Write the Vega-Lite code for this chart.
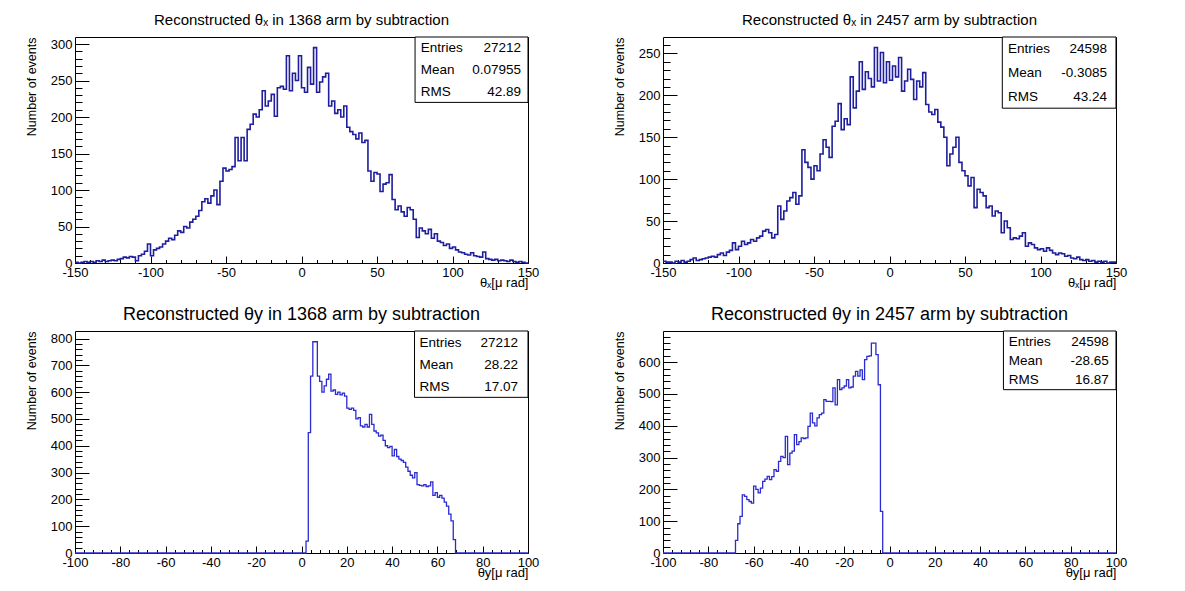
{
 "$schema": "https://vega.github.io/schema/vega-lite/v6.json",
 "background": "white",
 "padding": {"left": 24, "top": 12, "right": 5, "bottom": 5},
 "datasets": {
  "tl": [{"x":-150,"n":1},{"x":-148,"n":0},{"x":-146,"n":1},{"x":-144,"n":2},{"x":-142,"n":1},{"x":-140,"n":2},{"x":-138,"n":1},{"x":-136,"n":3},{"x":-134,"n":2},{"x":-132,"n":4},{"x":-130,"n":2},{"x":-128,"n":3},{"x":-126,"n":4},{"x":-124,"n":3},{"x":-122,"n":5},{"x":-120,"n":6},{"x":-118,"n":8},{"x":-116,"n":7},{"x":-114,"n":9},{"x":-112,"n":8},{"x":-110,"n":3},{"x":-108,"n":10},{"x":-106,"n":12},{"x":-104,"n":16},{"x":-102,"n":26},{"x":-100,"n":10},{"x":-98,"n":18},{"x":-96,"n":20},{"x":-94,"n":22},{"x":-92,"n":26},{"x":-90,"n":30},{"x":-88,"n":34},{"x":-86,"n":32},{"x":-84,"n":38},{"x":-82,"n":44},{"x":-80,"n":42},{"x":-78,"n":50},{"x":-76,"n":48},{"x":-74,"n":56},{"x":-72,"n":60},{"x":-70,"n":64},{"x":-68,"n":72},{"x":-66,"n":84},{"x":-64,"n":88},{"x":-62,"n":82},{"x":-60,"n":92},{"x":-58,"n":100},{"x":-56,"n":80},{"x":-54,"n":112},{"x":-52,"n":130},{"x":-50,"n":126},{"x":-48,"n":128},{"x":-46,"n":132},{"x":-44,"n":172},{"x":-42,"n":140},{"x":-40,"n":172},{"x":-38,"n":140},{"x":-36,"n":183},{"x":-34,"n":190},{"x":-32,"n":204},{"x":-30,"n":200},{"x":-28,"n":210},{"x":-26,"n":236},{"x":-24,"n":215},{"x":-22,"n":222},{"x":-20,"n":231},{"x":-18,"n":201},{"x":-16,"n":240},{"x":-14,"n":242},{"x":-12,"n":238},{"x":-10,"n":284},{"x":-8,"n":236},{"x":-6,"n":260},{"x":-4,"n":250},{"x":-2,"n":284},{"x":0,"n":240},{"x":2,"n":234},{"x":4,"n":268},{"x":6,"n":245},{"x":8,"n":295},{"x":10,"n":234},{"x":12,"n":248},{"x":14,"n":255},{"x":16,"n":260},{"x":18,"n":215},{"x":20,"n":222},{"x":22,"n":205},{"x":24,"n":210},{"x":26,"n":200},{"x":28,"n":215},{"x":30,"n":186},{"x":32,"n":180},{"x":34,"n":176},{"x":36,"n":170},{"x":38,"n":178},{"x":40,"n":165},{"x":42,"n":168},{"x":44,"n":126},{"x":46,"n":112},{"x":48,"n":124},{"x":50,"n":122},{"x":52,"n":98},{"x":54,"n":108},{"x":56,"n":110},{"x":58,"n":121},{"x":60,"n":87},{"x":62,"n":73},{"x":64,"n":78},{"x":66,"n":70},{"x":68,"n":64},{"x":70,"n":76},{"x":72,"n":73},{"x":74,"n":60},{"x":76,"n":35},{"x":78,"n":48},{"x":80,"n":44},{"x":82,"n":40},{"x":84,"n":46},{"x":86,"n":34},{"x":88,"n":40},{"x":90,"n":30},{"x":92,"n":28},{"x":94,"n":24},{"x":96,"n":26},{"x":98,"n":20},{"x":100,"n":22},{"x":102,"n":18},{"x":104,"n":15},{"x":106,"n":14},{"x":108,"n":12},{"x":110,"n":11},{"x":112,"n":14},{"x":114,"n":10},{"x":116,"n":9},{"x":118,"n":8},{"x":120,"n":15},{"x":122,"n":6},{"x":124,"n":5},{"x":126,"n":4},{"x":128,"n":5},{"x":130,"n":3},{"x":132,"n":4},{"x":134,"n":3},{"x":136,"n":2},{"x":138,"n":4},{"x":140,"n":2},{"x":142,"n":1},{"x":144,"n":2},{"x":146,"n":1},{"x":148,"n":0},{"x":150,"n":0}],
  "tr": [{"x":-150,"n":2},{"x":-148,"n":1},{"x":-146,"n":1},{"x":-144,"n":0},{"x":-142,"n":2},{"x":-140,"n":1},{"x":-138,"n":3},{"x":-136,"n":1},{"x":-134,"n":2},{"x":-132,"n":4},{"x":-130,"n":6},{"x":-128,"n":3},{"x":-126,"n":4},{"x":-124,"n":5},{"x":-122,"n":6},{"x":-120,"n":7},{"x":-118,"n":8},{"x":-116,"n":7},{"x":-114,"n":10},{"x":-112,"n":12},{"x":-110,"n":9},{"x":-108,"n":13},{"x":-106,"n":15},{"x":-104,"n":24},{"x":-102,"n":16},{"x":-100,"n":20},{"x":-98,"n":26},{"x":-96,"n":22},{"x":-94,"n":24},{"x":-92,"n":28},{"x":-90,"n":26},{"x":-88,"n":30},{"x":-86,"n":32},{"x":-84,"n":38},{"x":-82,"n":40},{"x":-80,"n":36},{"x":-78,"n":30},{"x":-76,"n":34},{"x":-74,"n":68},{"x":-72,"n":52},{"x":-70,"n":62},{"x":-68,"n":74},{"x":-66,"n":78},{"x":-64,"n":84},{"x":-62,"n":70},{"x":-60,"n":80},{"x":-58,"n":135},{"x":-56,"n":120},{"x":-54,"n":114},{"x":-52,"n":100},{"x":-50,"n":116},{"x":-48,"n":110},{"x":-46,"n":130},{"x":-44,"n":147},{"x":-42,"n":138},{"x":-40,"n":126},{"x":-38,"n":163},{"x":-36,"n":169},{"x":-34,"n":190},{"x":-32,"n":159},{"x":-30,"n":172},{"x":-28,"n":165},{"x":-26,"n":222},{"x":-24,"n":185},{"x":-22,"n":205},{"x":-20,"n":240},{"x":-18,"n":207},{"x":-16,"n":228},{"x":-14,"n":220},{"x":-12,"n":210},{"x":-10,"n":257},{"x":-8,"n":217},{"x":-6,"n":251},{"x":-4,"n":215},{"x":-2,"n":240},{"x":0,"n":218},{"x":2,"n":235},{"x":4,"n":222},{"x":6,"n":245},{"x":8,"n":205},{"x":10,"n":217},{"x":12,"n":231},{"x":14,"n":219},{"x":16,"n":195},{"x":18,"n":217},{"x":20,"n":210},{"x":22,"n":227},{"x":24,"n":189},{"x":26,"n":180},{"x":28,"n":177},{"x":30,"n":183},{"x":32,"n":168},{"x":34,"n":162},{"x":36,"n":150},{"x":38,"n":116},{"x":40,"n":130},{"x":42,"n":138},{"x":44,"n":150},{"x":46,"n":120},{"x":48,"n":110},{"x":50,"n":104},{"x":52,"n":92},{"x":54,"n":102},{"x":56,"n":66},{"x":58,"n":88},{"x":60,"n":84},{"x":62,"n":80},{"x":64,"n":66},{"x":66,"n":68},{"x":68,"n":56},{"x":70,"n":62},{"x":72,"n":60},{"x":74,"n":36},{"x":76,"n":50},{"x":78,"n":42},{"x":80,"n":28},{"x":82,"n":30},{"x":84,"n":29},{"x":86,"n":32},{"x":88,"n":36},{"x":90,"n":20},{"x":92,"n":24},{"x":94,"n":22},{"x":96,"n":18},{"x":98,"n":16},{"x":100,"n":17},{"x":102,"n":14},{"x":104,"n":18},{"x":106,"n":15},{"x":108,"n":12},{"x":110,"n":10},{"x":112,"n":12},{"x":114,"n":11},{"x":116,"n":8},{"x":118,"n":9},{"x":120,"n":6},{"x":122,"n":5},{"x":124,"n":7},{"x":126,"n":4},{"x":128,"n":3},{"x":130,"n":4},{"x":132,"n":2},{"x":134,"n":3},{"x":136,"n":1},{"x":138,"n":2},{"x":140,"n":1},{"x":142,"n":2},{"x":144,"n":0},{"x":146,"n":1},{"x":148,"n":1},{"x":150,"n":1}],
  "bl": [{"x":-100,"n":0},{"x":2,"n":44},{"x":3,"n":449},{"x":4,"n":660},{"x":5,"n":788},{"x":6,"n":788},{"x":7,"n":660},{"x":8,"n":640},{"x":9,"n":600},{"x":10,"n":623},{"x":11,"n":648},{"x":12,"n":667},{"x":13,"n":604},{"x":14,"n":608},{"x":15,"n":592},{"x":16,"n":600},{"x":17,"n":590},{"x":18,"n":596},{"x":19,"n":585},{"x":20,"n":540},{"x":21,"n":536},{"x":22,"n":540},{"x":23,"n":532},{"x":24,"n":500},{"x":25,"n":505},{"x":26,"n":474},{"x":27,"n":470},{"x":28,"n":480},{"x":29,"n":470},{"x":30,"n":517},{"x":31,"n":480},{"x":32,"n":455},{"x":33,"n":448},{"x":34,"n":436},{"x":35,"n":440},{"x":36,"n":420},{"x":37,"n":400},{"x":38,"n":393},{"x":39,"n":398},{"x":40,"n":362},{"x":41,"n":386},{"x":42,"n":360},{"x":43,"n":350},{"x":44,"n":345},{"x":45,"n":338},{"x":46,"n":320},{"x":47,"n":305},{"x":48,"n":290},{"x":49,"n":280},{"x":50,"n":300},{"x":51,"n":255},{"x":52,"n":252},{"x":53,"n":250},{"x":54,"n":255},{"x":55,"n":248},{"x":56,"n":250},{"x":57,"n":265},{"x":58,"n":215},{"x":59,"n":225},{"x":60,"n":208},{"x":61,"n":215},{"x":62,"n":205},{"x":63,"n":190},{"x":64,"n":175},{"x":65,"n":145},{"x":66,"n":120},{"x":67,"n":50},{"x":68,"n":0},{"x":100,"n":0}],
  "br": [{"x":-100,"n":0},{"x":-68,"n":40},{"x":-67,"n":92},{"x":-66,"n":115},{"x":-65,"n":183},{"x":-64,"n":178},{"x":-63,"n":168},{"x":-62,"n":162},{"x":-61,"n":157},{"x":-60,"n":210},{"x":-59,"n":200},{"x":-58,"n":189},{"x":-57,"n":204},{"x":-56,"n":225},{"x":-55,"n":232},{"x":-54,"n":241},{"x":-53,"n":231},{"x":-52,"n":240},{"x":-51,"n":262},{"x":-50,"n":257},{"x":-49,"n":288},{"x":-48,"n":304},{"x":-47,"n":300},{"x":-46,"n":367},{"x":-45,"n":278},{"x":-44,"n":314},{"x":-43,"n":320},{"x":-42,"n":372},{"x":-41,"n":341},{"x":-40,"n":350},{"x":-39,"n":362},{"x":-38,"n":360},{"x":-37,"n":362},{"x":-36,"n":398},{"x":-35,"n":440},{"x":-34,"n":409},{"x":-33,"n":400},{"x":-32,"n":425},{"x":-31,"n":435},{"x":-30,"n":440},{"x":-29,"n":482},{"x":-28,"n":477},{"x":-27,"n":477},{"x":-26,"n":476},{"x":-25,"n":519},{"x":-24,"n":466},{"x":-23,"n":545},{"x":-22,"n":514},{"x":-21,"n":519},{"x":-20,"n":525},{"x":-19,"n":545},{"x":-18,"n":519},{"x":-17,"n":522},{"x":-16,"n":556},{"x":-15,"n":571},{"x":-14,"n":556},{"x":-13,"n":576},{"x":-12,"n":545},{"x":-11,"n":608},{"x":-10,"n":618},{"x":-9,"n":620},{"x":-8,"n":660},{"x":-7,"n":660},{"x":-6,"n":624},{"x":-5,"n":529},{"x":-4,"n":131},{"x":-3,"n":0},{"x":100,"n":0}],
  "s_tl": [{"k":"Entries","v":"27212"},{"k":"Mean","v":"0.07955"},{"k":"RMS","v":"42.89"}],
  "s_tr": [{"k":"Entries","v":"24598"},{"k":"Mean","v":"-0.3085"},{"k":"RMS","v":"43.24"}],
  "s_bl": [{"k":"Entries","v":"27212"},{"k":"Mean","v":"28.22"},{"k":"RMS","v":"17.07"}],
  "s_br": [{"k":"Entries","v":"24598"},{"k":"Mean","v":"-28.65"},{"k":"RMS","v":"16.87"}]
 },
 "columns": 2,
 "bounds": "flush",
 "spacing": {"row": 68, "column": 135},
 "concat": [
   {"width": 453, "height": 226,
    "title": {"text": "Reconstructed θₓ in 1368 arm by subtraction", "fontSize": 15, "fontWeight": "normal", "offset": 9},
    "resolve": {"scale": {"y": "independent"}, "axis": {"y": "independent"}},
    "layer": [
     {"data": {"name": "tl"}, "mark": {"type": "line", "interpolate": "step-after", "color": "#1e1e9e", "strokeWidth": 1.6},
      "encoding": {
       "x": {"field": "x", "type": "quantitative", "scale": {"domain": [-150, 150], "nice": false, "zero": false},
        "axis": {"title": "θₓ[μ rad]", "tickCount": 1000, "labelOverlap": false, "values": [-150,-140,-130,-120,-110,-100,-90,-80,-70,-60,-50,-40,-30,-20,-10,0,10,20,30,40,50,60,70,80,90,100,110,120,130,140,150],
         "tickSize": {"condition": {"test": "datum.value % 50 === 0", "value": -7}, "value": -3.5},
         "labelExpr": "datum.value % 50 === 0 ? '' + round(datum.value) : ''"}},
       "y": {"field": "n", "type": "quantitative", "scale": {"domain": [0, 309.6], "nice": false},
        "axis": {"title": "Number of events", "tickCount": 1000, "labelOverlap": false, "values": [0,10,20,30,40,50,60,70,80,90,100,110,120,130,140,150,160,170,180,190,200,210,220,230,240,250,260,270,280,290,300],
         "tickSize": {"condition": {"test": "datum.value % 50 === 0", "value": -14}, "value": -7},
         "labelExpr": "datum.value % 50 === 0 ? '' + round(datum.value) : ''"}}}},
     {"data": {"values": [{}]}, "mark": {"type": "rect", "fill": "white", "stroke": "black", "strokeWidth": 1},
      "encoding": {"x": {"datum": 75.2}, "x2": {"datum": 150}, "y": {"datum": 220, "type": "quantitative", "scale": {"domain": [0, 309.6], "nice": false}, "axis": null}, "y2": {"datum": 309.6}}},
     {"data": {"name": "s_tl"}, "mark": {"type": "text", "align": "left", "baseline": "middle", "fontSize": 13.5},
      "encoding": {"x": {"datum": 79}, "y": {"field": "k", "type": "ordinal", "scale": {"type": "point", "padding": 0, "domain": ["Entries","Mean","RMS"], "range": [11, 55]}, "axis": null}, "text": {"field": "k"}}},
     {"data": {"name": "s_tl"}, "mark": {"type": "text", "align": "right", "baseline": "middle", "fontSize": 13.5},
      "encoding": {"x": {"datum": 145.4}, "y": {"field": "k", "type": "ordinal", "scale": {"type": "point", "padding": 0, "domain": ["Entries","Mean","RMS"], "range": [11, 55]}, "axis": null}, "text": {"field": "v"}}}
    ]},
   {"width": 453, "height": 226,
    "title": {"text": "Reconstructed θₓ in 2457 arm by subtraction", "fontSize": 15, "fontWeight": "normal", "offset": 9},
    "resolve": {"scale": {"y": "independent"}, "axis": {"y": "independent"}},
    "layer": [
     {"data": {"name": "tr"}, "mark": {"type": "line", "interpolate": "step-after", "color": "#1e1e9e", "strokeWidth": 1.6},
      "encoding": {
       "x": {"field": "x", "type": "quantitative", "scale": {"domain": [-150, 150], "nice": false, "zero": false},
        "axis": {"title": "θₓ[μ rad]", "tickCount": 1000, "labelOverlap": false, "values": [-150,-140,-130,-120,-110,-100,-90,-80,-70,-60,-50,-40,-30,-20,-10,0,10,20,30,40,50,60,70,80,90,100,110,120,130,140,150],
         "tickSize": {"condition": {"test": "datum.value % 50 === 0", "value": -7}, "value": -3.5},
         "labelExpr": "datum.value % 50 === 0 ? '' + round(datum.value) : ''"}},
       "y": {"field": "n", "type": "quantitative", "scale": {"domain": [0, 269.5], "nice": false},
        "axis": {"title": "Number of events", "tickCount": 1000, "labelOverlap": false, "values": [0,10,20,30,40,50,60,70,80,90,100,110,120,130,140,150,160,170,180,190,200,210,220,230,240,250,260],
         "tickSize": {"condition": {"test": "datum.value % 50 === 0", "value": -14}, "value": -7},
         "labelExpr": "datum.value % 50 === 0 ? '' + round(datum.value) : ''"}}}},
     {"data": {"values": [{}]}, "mark": {"type": "rect", "fill": "white", "stroke": "black", "strokeWidth": 1},
      "encoding": {"x": {"datum": 74.7}, "x2": {"datum": 150}, "y": {"datum": 184.6, "type": "quantitative", "scale": {"domain": [0, 269.5], "nice": false}, "axis": null}, "y2": {"datum": 269.5}}},
     {"data": {"name": "s_tr"}, "mark": {"type": "text", "align": "left", "baseline": "middle", "fontSize": 13.5},
      "encoding": {"x": {"datum": 78.5}, "y": {"field": "k", "type": "ordinal", "scale": {"type": "point", "padding": 0, "domain": ["Entries","Mean","RMS"], "range": [12, 60]}, "axis": null}, "text": {"field": "k"}}},
     {"data": {"name": "s_tr"}, "mark": {"type": "text", "align": "right", "baseline": "middle", "fontSize": 13.5},
      "encoding": {"x": {"datum": 144}, "y": {"field": "k", "type": "ordinal", "scale": {"type": "point", "padding": 0, "domain": ["Entries","Mean","RMS"], "range": [12, 60]}, "axis": null}, "text": {"field": "v"}}}
    ]},
   {"width": 453, "height": 222,
    "title": {"text": "Reconstructed θy in 1368 arm by subtraction", "fontSize": 18, "fontWeight": "normal", "offset": 7},
    "resolve": {"scale": {"y": "independent"}, "axis": {"y": "independent"}},
    "layer": [
     {"data": {"name": "bl"}, "mark": {"type": "line", "interpolate": "step-after", "color": "#2b2bd0", "strokeWidth": 1.3},
      "encoding": {
       "x": {"field": "x", "type": "quantitative", "scale": {"domain": [-100, 100], "nice": false, "zero": false},
        "axis": {"title": "θy[μ rad]", "tickCount": 1000, "labelOverlap": false, "values": [-100,-96,-92,-88,-84,-80,-76,-72,-68,-64,-60,-56,-52,-48,-44,-40,-36,-32,-28,-24,-20,-16,-12,-8,-4,0,4,8,12,16,20,24,28,32,36,40,44,48,52,56,60,64,68,72,76,80,84,88,92,96,100],
         "tickSize": {"condition": {"test": "datum.value % 20 === 0", "value": -7}, "value": -3.5},
         "labelExpr": "datum.value % 20 === 0 ? '' + round(datum.value) : ''"}},
       "y": {"field": "n", "type": "quantitative", "scale": {"domain": [0, 828], "nice": false},
        "axis": {"title": "Number of events", "tickCount": 1000, "labelOverlap": false, "values": [0,20,40,60,80,100,120,140,160,180,200,220,240,260,280,300,320,340,360,380,400,420,440,460,480,500,520,540,560,580,600,620,640,660,680,700,720,740,760,780,800],
         "tickSize": {"condition": {"test": "datum.value % 100 === 0", "value": -14}, "value": -7},
         "labelExpr": "datum.value % 100 === 0 ? '' + round(datum.value) : ''"}}}},
     {"data": {"values": [{}]}, "mark": {"type": "rect", "fill": "white", "stroke": "black", "strokeWidth": 1},
      "encoding": {"x": {"datum": 49.9}, "x2": {"datum": 100}, "y": {"datum": 580.6, "type": "quantitative", "scale": {"domain": [0, 828], "nice": false}, "axis": null}, "y2": {"datum": 828}}},
     {"data": {"name": "s_bl"}, "mark": {"type": "text", "align": "left", "baseline": "middle", "fontSize": 13.5},
      "encoding": {"x": {"datum": 52.1}, "y": {"field": "k", "type": "ordinal", "scale": {"type": "point", "padding": 0, "domain": ["Entries","Mean","RMS"], "range": [12, 56]}, "axis": null}, "text": {"field": "k"}}},
     {"data": {"name": "s_bl"}, "mark": {"type": "text", "align": "right", "baseline": "middle", "fontSize": 13.5},
      "encoding": {"x": {"datum": 95.6}, "y": {"field": "k", "type": "ordinal", "scale": {"type": "point", "padding": 0, "domain": ["Entries","Mean","RMS"], "range": [12, 56]}, "axis": null}, "text": {"field": "v"}}}
    ]},
   {"width": 453, "height": 222,
    "title": {"text": "Reconstructed θy in 2457 arm by subtraction", "fontSize": 18, "fontWeight": "normal", "offset": 7},
    "resolve": {"scale": {"y": "independent"}, "axis": {"y": "independent"}},
    "layer": [
     {"data": {"name": "br"}, "mark": {"type": "line", "interpolate": "step-after", "color": "#2b2bd0", "strokeWidth": 1.3},
      "encoding": {
       "x": {"field": "x", "type": "quantitative", "scale": {"domain": [-100, 100], "nice": false, "zero": false},
        "axis": {"title": "θy[μ rad]", "tickCount": 1000, "labelOverlap": false, "values": [-100,-96,-92,-88,-84,-80,-76,-72,-68,-64,-60,-56,-52,-48,-44,-40,-36,-32,-28,-24,-20,-16,-12,-8,-4,0,4,8,12,16,20,24,28,32,36,40,44,48,52,56,60,64,68,72,76,80,84,88,92,96,100],
         "tickSize": {"condition": {"test": "datum.value % 20 === 0", "value": -7}, "value": -3.5},
         "labelExpr": "datum.value % 20 === 0 ? '' + round(datum.value) : ''"}},
       "y": {"field": "n", "type": "quantitative", "scale": {"domain": [0, 698], "nice": false},
        "axis": {"title": "Number of events", "tickCount": 1000, "labelOverlap": false, "values": [0,20,40,60,80,100,120,140,160,180,200,220,240,260,280,300,320,340,360,380,400,420,440,460,480,500,520,540,560,580,600,620,640,660,680],
         "tickSize": {"condition": {"test": "datum.value % 100 === 0", "value": -14}, "value": -7},
         "labelExpr": "datum.value % 100 === 0 ? '' + round(datum.value) : ''"}}}},
     {"data": {"values": [{}]}, "mark": {"type": "rect", "fill": "white", "stroke": "black", "strokeWidth": 1},
      "encoding": {"x": {"datum": 50.3}, "x2": {"datum": 100}, "y": {"datum": 513.5, "type": "quantitative", "scale": {"domain": [0, 698], "nice": false}, "axis": null}, "y2": {"datum": 698}}},
     {"data": {"name": "s_br"}, "mark": {"type": "text", "align": "left", "baseline": "middle", "fontSize": 13.5},
      "encoding": {"x": {"datum": 52.6}, "y": {"field": "k", "type": "ordinal", "scale": {"type": "point", "padding": 0, "domain": ["Entries","Mean","RMS"], "range": [11, 49]}, "axis": null}, "text": {"field": "k"}}},
     {"data": {"name": "s_br"}, "mark": {"type": "text", "align": "right", "baseline": "middle", "fontSize": 13.5},
      "encoding": {"x": {"datum": 96.8}, "y": {"field": "k", "type": "ordinal", "scale": {"type": "point", "padding": 0, "domain": ["Entries","Mean","RMS"], "range": [11, 49]}, "axis": null}, "text": {"field": "v"}}}
    ]}
 ],
 "config": {
  "font": "Liberation Sans",
  "view": {"stroke": "black", "strokeWidth": 1},
  "title": {"color": "black", "anchor": "middle"},
  "text": {"color": "black"},
  "axis": {"domain": false, "grid": false, "tickColor": "black", "tickWidth": 1,
   "labelColor": "black", "labelFontSize": 13, "labelFlush": false, "labelOverlap": false,
   "titleColor": "black", "titleFontWeight": "normal", "titleFontSize": 12.5},
  "axisX": {"labelPadding": 10, "titleAnchor": "end", "titlePadding": -6, "titleFontSize": 13, "labelOverlap": false},
  "axisY": {"labelPadding": 17, "titleAnchor": "end", "titlePadding": 12}
 }
}
